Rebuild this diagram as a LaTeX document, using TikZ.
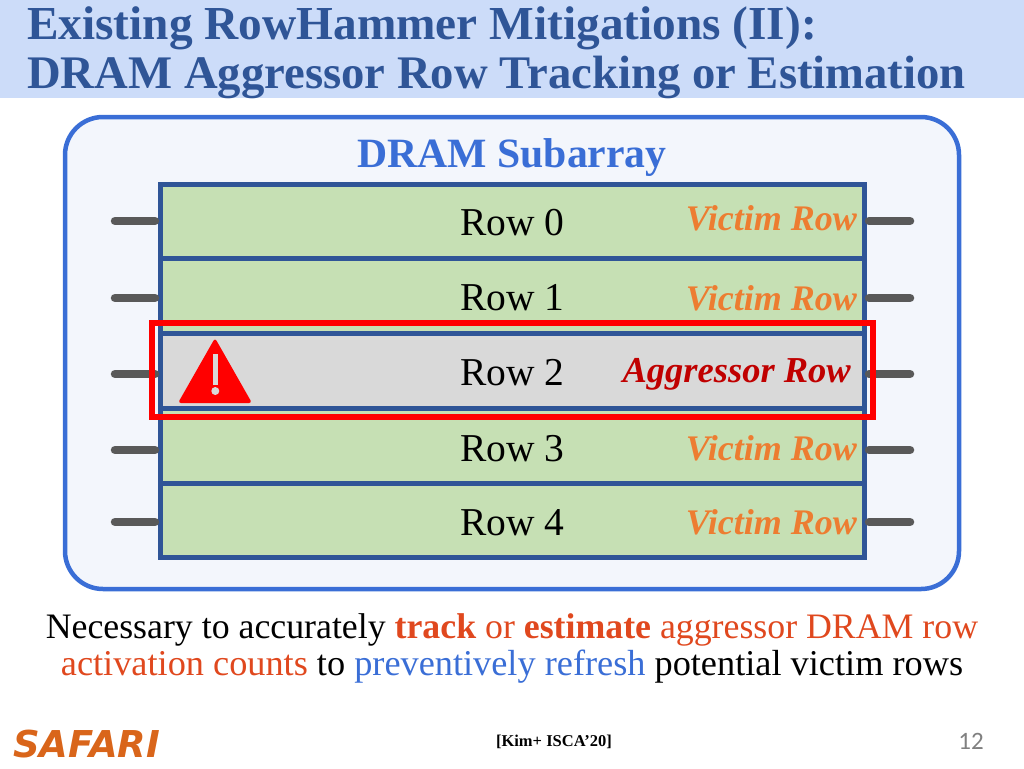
\documentclass[tikz,border=0pt]{standalone}
\usepackage{fontspec}
\setmainfont{Liberation Serif}
\newfontfamily\logofont{DejaVu Sans}
\newfontfamily\pagefont{Carlito}
\usetikzlibrary{calc}
\definecolor{bandblue}{RGB}{204,220,249}
\definecolor{titleblue}{RGB}{47,85,151}
\definecolor{panelblue}{RGB}{58,110,214}
\definecolor{panelfill}{RGB}{243,246,252}
\definecolor{rowgreen}{RGB}{198,224,180}
\definecolor{rowgray}{RGB}{217,217,217}
\definecolor{rowline}{RGB}{47,85,151}
\definecolor{stubgray}{RGB}{89,89,89}
\definecolor{victimorange}{RGB}{237,125,49}
\definecolor{aggrred}{RGB}{192,0,0}
\definecolor{hotorange}{RGB}{224,72,30}
\definecolor{logoorange}{RGB}{217,101,26}
\tikzset{
  rowbox/.style={draw=rowline,line width=5pt,fill=rowgreen,minimum width=704pt,inner sep=0pt,outer sep=0pt},
  rowname/.style={font=\fontsize{39.5}{39.5}\selectfont,text=black},
  victim/.style={font=\fontsize{36}{36}\selectfont\bfseries\itshape,text=victimorange,anchor=east,inner sep=0pt},
  stub/.style={line width=8.5pt,stubgray,line cap=round,shorten >=5pt},
  titleline/.style={anchor=west,inner sep=0pt,text=titleblue},
}
\begin{document}
\begin{tikzpicture}[x=1pt,y=-1pt]
\useasboundingbox (0,0) rectangle (1024,768);
\fill [bandblue] (0,0) rectangle (1024,98);
\node [titleline,font=\fontsize{47.3}{47.3}\selectfont\bfseries] (title0) at (27,28) {Existing RowHammer Mitigations (II):};
\node [titleline,font=\fontsize{46.7}{46.7}\selectfont\bfseries] (title1) at (27,77) {DRAM Aggressor Row Tracking or Estimation};
\draw [panelblue,line width=4.5pt,fill=panelfill,rounded corners=38pt] (65,117) rectangle (959,589);
\node [font=\fontsize{41.7}{41.7}\selectfont\bfseries,text=panelblue] (sub) at (512,158) {DRAM Subarray};
% rows
\node [rowbox,minimum height=74pt] (row0) at (512,221) {};
\node [rowbox,minimum height=75pt] (row1) at (512,295.5) {};
\node [rowbox,minimum height=75pt,fill=rowgray] (row2) at (512,370.5) {};
\node [rowbox,minimum height=75pt] (row3) at (512,445.5) {};
\node [rowbox,minimum height=74pt] (row4) at (512,520) {};
\foreach \i/\ypos/\ytext in {0/221/223,1/298/298,2/374/373,3/450/449,4/522/523} {
  \coordinate (l\i) at (115,\ypos);
  \coordinate (r\i) at (910,\ypos);
  \draw [stub] (l\i) -- (l\i -| row\i.west);
  \draw [stub] (r\i) -- (r\i -| row\i.east);
  \node [rowname] (name\i) at (512.5,\ytext) {Row \i};
}
\node [victim] (tag0) at (857,218) {Victim Row};
\node [victim] (tag1) at (857,298) {Victim Row};
\node [victim,text=aggrred,font=\fontsize{36.5}{36.5}\selectfont\bfseries\itshape] (tag2) at (851,374) {Aggressor Row};
\node [victim] (tag3) at (857,448) {Victim Row};
\node [victim] (tag4) at (857,522) {Victim Row};
\draw [red,line width=6pt] (152,323) rectangle (873,417);
% warning sign
\fill [red,rounded corners=3pt] (215,338) -- (252,403) -- (178,403) -- cycle;
\fill [rowgray] (212.5,354) rectangle (218,385);
\fill [rowgray] (215.3,391) circle (4);
\node [align=center,inner sep=0pt,font=\fontsize{35.8}{37}\selectfont] (note) at (512,648) {Necessary to accurately \textbf{\textcolor{hotorange}{track}} \textcolor{hotorange}{or} \textbf{\textcolor{hotorange}{estimate}} \textcolor{hotorange}{aggressor DRAM row}\\ \fontsize{36.3}{37}\selectfont\textcolor{hotorange}{activation counts} to \textcolor{panelblue}{preventively refresh} potential victim rows};
\node [anchor=west,inner sep=0pt,font=\logofont\fontsize{37}{37}\selectfont\bfseries\itshape,text=logoorange] (logo) at (13,744) {SAFARI};
\node [inner sep=0pt,font=\fontsize{16.5}{16.5}\selectfont\bfseries] (cite) at (554,742) {[Kim+ ISCA’20]};
\node [inner sep=0pt,font=\pagefont\fontsize{25}{25}\selectfont,text=black!50] (page) at (971,741) {12};
\end{tikzpicture}
\end{document}
